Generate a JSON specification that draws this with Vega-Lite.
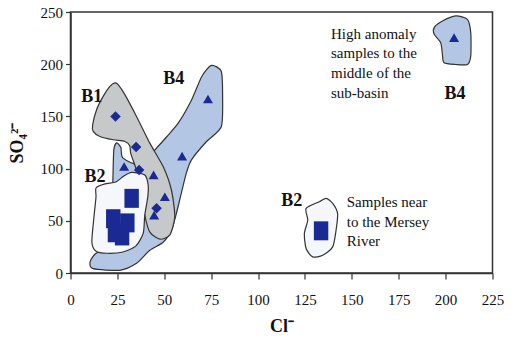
{
  "$schema": "https://vega.github.io/schema/vega-lite/v6.json",
  "width": 422,
  "height": 261,
  "autosize": "none",
  "padding": {"left": 70.5, "top": 12, "right": 22, "bottom": 72},
  "background": "white",
  "config": {
    "view": {"stroke": "#333", "strokeWidth": 1.5},
    "font": "Liberation Serif",
    "axis": {
      "labelFont": "Liberation Serif", "labelFontSize": 15, "labelColor": "#111",
      "titleFont": "Liberation Serif", "titleFontSize": 18, "titleFontWeight": "bold", "titleColor": "#111",
      "domainColor": "#333", "domainWidth": 1.5, "tickColor": "#333", "tickWidth": 1.2, "grid": false
    }
  },
  "datasets": {
    "polys": [
      {"poly": "B4", "i": 1, "cl": 75.1, "so": 198.8},
      {"poly": "B4", "i": 2, "cl": 80.4, "so": 193},
      {"poly": "B4", "i": 3, "cl": 81.1, "so": 168.9},
      {"poly": "B4", "i": 4, "cl": 80.4, "so": 140.1},
      {"poly": "B4", "i": 5, "cl": 72.4, "so": 125.7},
      {"poly": "B4", "i": 6, "cl": 64.5, "so": 108.4},
      {"poly": "B4", "i": 7, "cl": 61.8, "so": 95.9},
      {"poly": "B4", "i": 8, "cl": 59.1, "so": 76.6},
      {"poly": "B4", "i": 9, "cl": 56.5, "so": 57.4},
      {"poly": "B4", "i": 10, "cl": 53.8, "so": 41},
      {"poly": "B4", "i": 11, "cl": 49.4, "so": 29.5},
      {"poly": "B4", "i": 12, "cl": 42.3, "so": 21.8},
      {"poly": "B4", "i": 13, "cl": 35.2, "so": 9.3},
      {"poly": "B4", "i": 14, "cl": 26.3, "so": 2.6},
      {"poly": "B4", "i": 15, "cl": 12.1, "so": 4.2},
      {"poly": "B4", "i": 16, "cl": 10.4, "so": 10.3},
      {"poly": "B4", "i": 17, "cl": 13, "so": 18},
      {"poly": "B4", "i": 18, "cl": 19.9, "so": 26.6},
      {"poly": "B4", "i": 19, "cl": 22.1, "so": 50.7},
      {"poly": "B4", "i": 20, "cl": 22.6, "so": 89.1},
      {"poly": "B4", "i": 21, "cl": 23.1, "so": 117.9},
      {"poly": "B4", "i": 22, "cl": 24.7, "so": 124.7},
      {"poly": "B4", "i": 23, "cl": 26.9, "so": 119.9},
      {"poly": "B4", "i": 24, "cl": 27.9, "so": 110.3},
      {"poly": "B4", "i": 25, "cl": 37, "so": 103.6},
      {"poly": "B4", "i": 26, "cl": 46.5, "so": 120.9},
      {"poly": "B4", "i": 27, "cl": 51.3, "so": 130.5},
      {"poly": "B4", "i": 28, "cl": 57.6, "so": 144},
      {"poly": "B4", "i": 29, "cl": 64.6, "so": 166},
      {"poly": "B4", "i": 30, "cl": 70, "so": 188.2},
      {"poly": "B1", "i": 1, "cl": 23.7, "so": 182.1},
      {"poly": "B1", "i": 2, "cl": 21, "so": 178.8},
      {"poly": "B1", "i": 3, "cl": 17.4, "so": 169.2},
      {"poly": "B1", "i": 4, "cl": 13.9, "so": 156.4},
      {"poly": "B1", "i": 5, "cl": 11.8, "so": 142},
      {"poly": "B1", "i": 6, "cl": 12.1, "so": 135.6},
      {"poly": "B1", "i": 7, "cl": 15.7, "so": 130.8},
      {"poly": "B1", "i": 8, "cl": 22.8, "so": 127.6},
      {"poly": "B1", "i": 9, "cl": 29, "so": 126},
      {"poly": "B1", "i": 10, "cl": 31.6, "so": 121.8},
      {"poly": "B1", "i": 11, "cl": 32.2, "so": 114.1},
      {"poly": "B1", "i": 12, "cl": 35.9, "so": 93.9},
      {"poly": "B1", "i": 13, "cl": 39.6, "so": 55.5},
      {"poly": "B1", "i": 14, "cl": 42.3, "so": 39.1},
      {"poly": "B1", "i": 15, "cl": 47.6, "so": 32.4},
      {"poly": "B1", "i": 16, "cl": 52.9, "so": 36.3},
      {"poly": "B1", "i": 17, "cl": 55.6, "so": 53.8},
      {"poly": "B1", "i": 18, "cl": 53.8, "so": 79.5},
      {"poly": "B1", "i": 19, "cl": 49.4, "so": 101.9},
      {"poly": "B1", "i": 20, "cl": 42.3, "so": 124.4},
      {"poly": "B1", "i": 21, "cl": 35.2, "so": 150},
      {"poly": "B1", "i": 22, "cl": 29, "so": 170.9},
      {"poly": "B1", "i": 23, "cl": 25.4, "so": 180.5},
      {"poly": "B2", "i": 1, "cl": 13.6, "so": 81.4},
      {"poly": "B2", "i": 2, "cl": 18.4, "so": 85.3},
      {"poly": "B2", "i": 3, "cl": 24.2, "so": 87.2},
      {"poly": "B2", "i": 4, "cl": 28.5, "so": 93},
      {"poly": "B2", "i": 5, "cl": 32.7, "so": 96.3},
      {"poly": "B2", "i": 6, "cl": 39.6, "so": 93.9},
      {"poly": "B2", "i": 7, "cl": 41.4, "so": 84.3},
      {"poly": "B2", "i": 8, "cl": 41.2, "so": 72.8},
      {"poly": "B2", "i": 9, "cl": 39.6, "so": 55.5},
      {"poly": "B2", "i": 10, "cl": 38.8, "so": 38.2},
      {"poly": "B2", "i": 11, "cl": 34.8, "so": 25.7},
      {"poly": "B2", "i": 12, "cl": 27.4, "so": 19.9},
      {"poly": "B2", "i": 13, "cl": 19.4, "so": 18.9},
      {"poly": "B2", "i": 14, "cl": 13.6, "so": 20.9},
      {"poly": "B2", "i": 15, "cl": 11.4, "so": 29.5},
      {"poly": "B2", "i": 16, "cl": 12.5, "so": 53.6},
      {"poly": "B2", "i": 17, "cl": 13.6, "so": 72.8},
      {"poly": "B2r", "i": 1, "cl": 125.6, "so": 61.9},
      {"poly": "B2r", "i": 2, "cl": 132.7, "so": 68.3},
      {"poly": "B2r", "i": 3, "cl": 136.3, "so": 71.5},
      {"poly": "B2r", "i": 4, "cl": 139.8, "so": 66.7},
      {"poly": "B2r", "i": 5, "cl": 142.4, "so": 57.1},
      {"poly": "B2r", "i": 6, "cl": 141.6, "so": 41.1},
      {"poly": "B2r", "i": 7, "cl": 139.8, "so": 25},
      {"poly": "B2r", "i": 8, "cl": 134.5, "so": 17},
      {"poly": "B2r", "i": 9, "cl": 129.1, "so": 15.4},
      {"poly": "B2r", "i": 10, "cl": 125.6, "so": 23.5},
      {"poly": "B2r", "i": 11, "cl": 124.7, "so": 37.9},
      {"poly": "B2r", "i": 12, "cl": 126.5, "so": 50.7},
      {"poly": "B4r", "i": 1, "cl": 198.3, "so": 241.3},
      {"poly": "B4r", "i": 2, "cl": 205.4, "so": 246.2},
      {"poly": "B4r", "i": 3, "cl": 211.6, "so": 243},
      {"poly": "B4r", "i": 4, "cl": 213.4, "so": 230.2},
      {"poly": "B4r", "i": 5, "cl": 213.4, "so": 207.7},
      {"poly": "B4r", "i": 6, "cl": 211.6, "so": 199.7},
      {"poly": "B4r", "i": 7, "cl": 205.4, "so": 199.7},
      {"poly": "B4r", "i": 8, "cl": 199.2, "so": 201.3},
      {"poly": "B4r", "i": 9, "cl": 198.3, "so": 209.3},
      {"poly": "B4r", "i": 10, "cl": 197.4, "so": 220.6},
      {"poly": "B4r", "i": 11, "cl": 193.9, "so": 228.6},
      {"poly": "B4r", "i": 12, "cl": 193.9, "so": 235}
    ],
    "pts": [
      {"type": "B1", "cl": 24.0, "so": 150},
      {"type": "B1", "cl": 35.0, "so": 120.6},
      {"type": "B1", "cl": 36.6, "so": 98.7},
      {"type": "B1", "cl": 45.9, "so": 62},
      {"type": "B4", "cl": 28.6, "so": 102},
      {"type": "B4", "cl": 44.3, "so": 94},
      {"type": "B4", "cl": 50.3, "so": 73},
      {"type": "B4", "cl": 44.6, "so": 55.5},
      {"type": "B4", "cl": 59.5, "so": 112},
      {"type": "B4", "cl": 73.3, "so": 166.7},
      {"type": "B4", "cl": 204.5, "so": 225.4},
      {"type": "B2", "cl": 32.6, "so": 71.5},
      {"type": "B2", "cl": 22.8, "so": 52},
      {"type": "B2", "cl": 30.3, "so": 48},
      {"type": "B2", "cl": 23.7, "so": 38.5},
      {"type": "B2", "cl": 27.5, "so": 35.5},
      {"type": "B2", "cl": 133.6, "so": 40.4}
    ],
    "labels": [
      {"text": "B1", "cl": 11.3, "so": 169},
      {"text": "B4", "cl": 55, "so": 186},
      {"text": "B2", "cl": 13, "so": 91.5},
      {"text": "B2", "cl": 118, "so": 69},
      {"text": "B4", "cl": 205, "so": 171.8}
    ],
    "notes": [
      {"text": "High anomaly", "cl": 138.9, "so": 228.6},
      {"text": "samples to the", "cl": 138.9, "so": 210.3},
      {"text": "middle of the", "cl": 138.9, "so": 191.7},
      {"text": "sub-basin", "cl": 138.9, "so": 172.5},
      {"text": "Samples near", "cl": 147.3, "so": 68.3},
      {"text": "to the Mersey", "cl": 147.3, "so": 49},
      {"text": "River", "cl": 147.3, "so": 30.8}
    ]
  },
  "encoding": {
    "x": {
      "field": "cl", "type": "quantitative",
      "scale": {"domain": [0, 225], "nice": false, "zero": false},
      "axis": {
        "values": [0, 25, 50, 75, 100, 125, 150, 175, 200, 225],
        "title": "Cl⁻", "titlePadding": 10,
        "labelFont": "Liberation Serif", "labelFontSize": 15, "labelPadding": 13, "labelColor": "#111",
        "tickSize": 6, "labelFlush": false
      }
    },
    "y": {
      "field": "so", "type": "quantitative",
      "scale": {"domain": [0, 250], "nice": false, "zero": false},
      "axis": {
        "values": [0, 50, 100, 150, 200, 250],
        "title": "SO₄²⁻", "titlePadding": 14,
        "labelFont": "Liberation Serif", "labelFontSize": 15, "labelPadding": 3, "labelColor": "#111",
        "tickSize": 5, "labelFlush": false
      }
    }
  },
  "layer": [
    {
      "data": {"name": "polys"},
      "transform": [{"filter": "datum.poly === 'B4'"}],
      "mark": {"type": "line", "interpolate": "cardinal-closed", "tension": 0.3, "fill": "#b3c7e4", "stroke": "#333", "strokeWidth": 1.2},
      "encoding": {"order": {"field": "i", "type": "quantitative"}}
    },
    {
      "data": {"name": "polys"},
      "transform": [{"filter": "datum.poly === 'B1'"}],
      "mark": {"type": "line", "interpolate": "cardinal-closed", "tension": 0.3, "fill": "#c6c9c9", "stroke": "#333", "strokeWidth": 1.2},
      "encoding": {"order": {"field": "i", "type": "quantitative"}}
    },
    {
      "data": {"name": "polys"},
      "transform": [{"filter": "datum.poly === 'B2' || datum.poly === 'B2r'"}],
      "mark": {"type": "line", "interpolate": "cardinal-closed", "tension": 0.3, "fill": "#f5f7fb", "stroke": "#333", "strokeWidth": 1.2},
      "encoding": {"order": {"field": "i", "type": "quantitative"}, "detail": {"field": "poly"}}
    },
    {
      "data": {"name": "polys"},
      "transform": [{"filter": "datum.poly === 'B4r'"}],
      "mark": {"type": "line", "interpolate": "cardinal-closed", "tension": 0.3, "fill": "#b3c7e4", "stroke": "#333", "strokeWidth": 1.2},
      "encoding": {"order": {"field": "i", "type": "quantitative"}}
    },
    {
      "data": {"name": "pts"},
      "transform": [{"filter": "datum.type === 'B1'"}],
      "mark": {"type": "point", "shape": "diamond", "filled": true, "size": 110, "color": "#1a2a92", "opacity": 1}
    },
    {
      "data": {"name": "pts"},
      "transform": [{"filter": "datum.type === 'B4'"}],
      "mark": {"type": "point", "shape": "triangle-up", "filled": true, "size": 100, "color": "#1a2a92", "opacity": 1}
    },
    {
      "data": {"name": "pts"},
      "transform": [{"filter": "datum.type === 'B2'"}],
      "mark": {"type": "point", "shape": "M-0.76,-1L0.76,-1L0.76,1L-0.76,1Z", "filled": true, "size": 360, "color": "#1a2a92", "opacity": 1}
    },
    {
      "data": {"name": "labels"},
      "mark": {"type": "text", "font": "Liberation Serif", "fontSize": 18, "fontWeight": "bold", "color": "#111"},
      "encoding": {"text": {"field": "text"}}
    },
    {
      "data": {"name": "notes"},
      "mark": {"type": "text", "font": "Liberation Serif", "fontSize": 15, "align": "left", "baseline": "middle", "color": "#111"},
      "encoding": {"text": {"field": "text"}}
    }
  ]
}
